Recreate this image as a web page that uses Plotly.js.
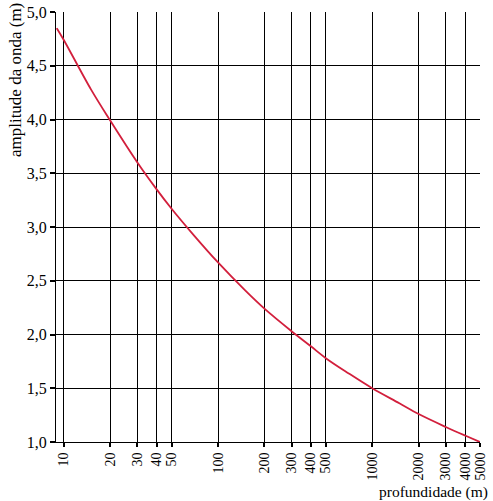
<!DOCTYPE html>
<html><head><meta charset="utf-8">
<script src="https://cdn.plot.ly/plotly-3.0.1.min.js"></script>
<style>html,body{margin:0;padding:0;background:#fff}#c{width:493px;height:501px}</style>
</head><body><div id="c"></div>
<script>
var depth = [9, 10, 15, 20, 30, 40, 50, 70, 100, 150, 200, 300, 400, 500, 700, 1000, 1500, 2000, 3000, 4000, 5000];
var amplitude = [4.85, 4.74, 4.28, 3.99, 3.60, 3.35, 3.17, 2.92, 2.67, 2.41, 2.24, 2.03, 1.89, 1.78, 1.64, 1.50, 1.36, 1.26, 1.14, 1.06, 1.00];
var xTicks = [10, 20, 30, 40, 50, 100, 200, 300, 400, 500, 1000, 2000, 3000, 4000, 5000];
var xTickText = ['10','20','30','40','50','100','200','300','400','500','1000','2000','3000','4000','5000'];
var yTicks = [1.0, 1.5, 2.0, 2.5, 3.0, 3.5, 4.0, 4.5, 5.0];

var fam = '"Liberation Serif", "Times New Roman", serif';
var xTickFont = {family: fam, size: 14, color: '#000'};
var yTickFont = {family: fam, size: 16, color: '#000'};
var yTitleFont = {family: fam, size: 17, color: '#000'};
var xTitleFont = {family: fam, size: 15.5, color: '#000'};
var trace = {x: depth, y: amplitude, mode: 'lines', line: {color: '#d21f3c', width: 1.8, shape: 'spline'}, hoverinfo: 'skip'};
var layout = {
  width: 493, height: 501,
  margin: {l: 56, r: 13, t: 12, b: 59},
  separators: ',.',
  showlegend: false,
  paper_bgcolor: '#fff', plot_bgcolor: '#fff',
  font: yTickFont,
  xaxis: {
    type: 'log', range: [Math.log10(8.9), Math.log10(5000)],
    tickvals: xTicks, ticktext: xTickText, tickangle: -90,
    showgrid: true, gridcolor: '#000', gridwidth: 1,
    showline: true, linecolor: '#000', linewidth: 1,
    ticks: 'outside', ticklen: 4, tickcolor: '#000', tickwidth: 2,
    zeroline: false, tickfont: xTickFont
  },
  yaxis: {
    range: [1, 5], tickvals: yTicks, tickformat: '.1f',
    showgrid: true, gridcolor: '#000', gridwidth: 1,
    showline: true, linecolor: '#000', linewidth: 1,
    ticks: 'outside', ticklen: 5, tickcolor: '#000', tickwidth: 2,
    zeroline: false, tickfont: yTickFont
  },
  annotations: [{
    text: 'profundidade (m)', xref: 'paper', yref: 'paper', x: 1.024, y: -0.116,
    xanchor: 'right', yanchor: 'middle', showarrow: false, font: xTitleFont
  }, {
    text: 'amplitude da onda (m)', xref: 'paper', yref: 'paper', x: -0.094, y: 0.842,
    xanchor: 'center', yanchor: 'middle', textangle: -90, showarrow: false, font: yTitleFont
  }]
};
Plotly.newPlot('c', [trace], layout, {staticPlot: true, displayModeBar: false});
</script></body></html>
